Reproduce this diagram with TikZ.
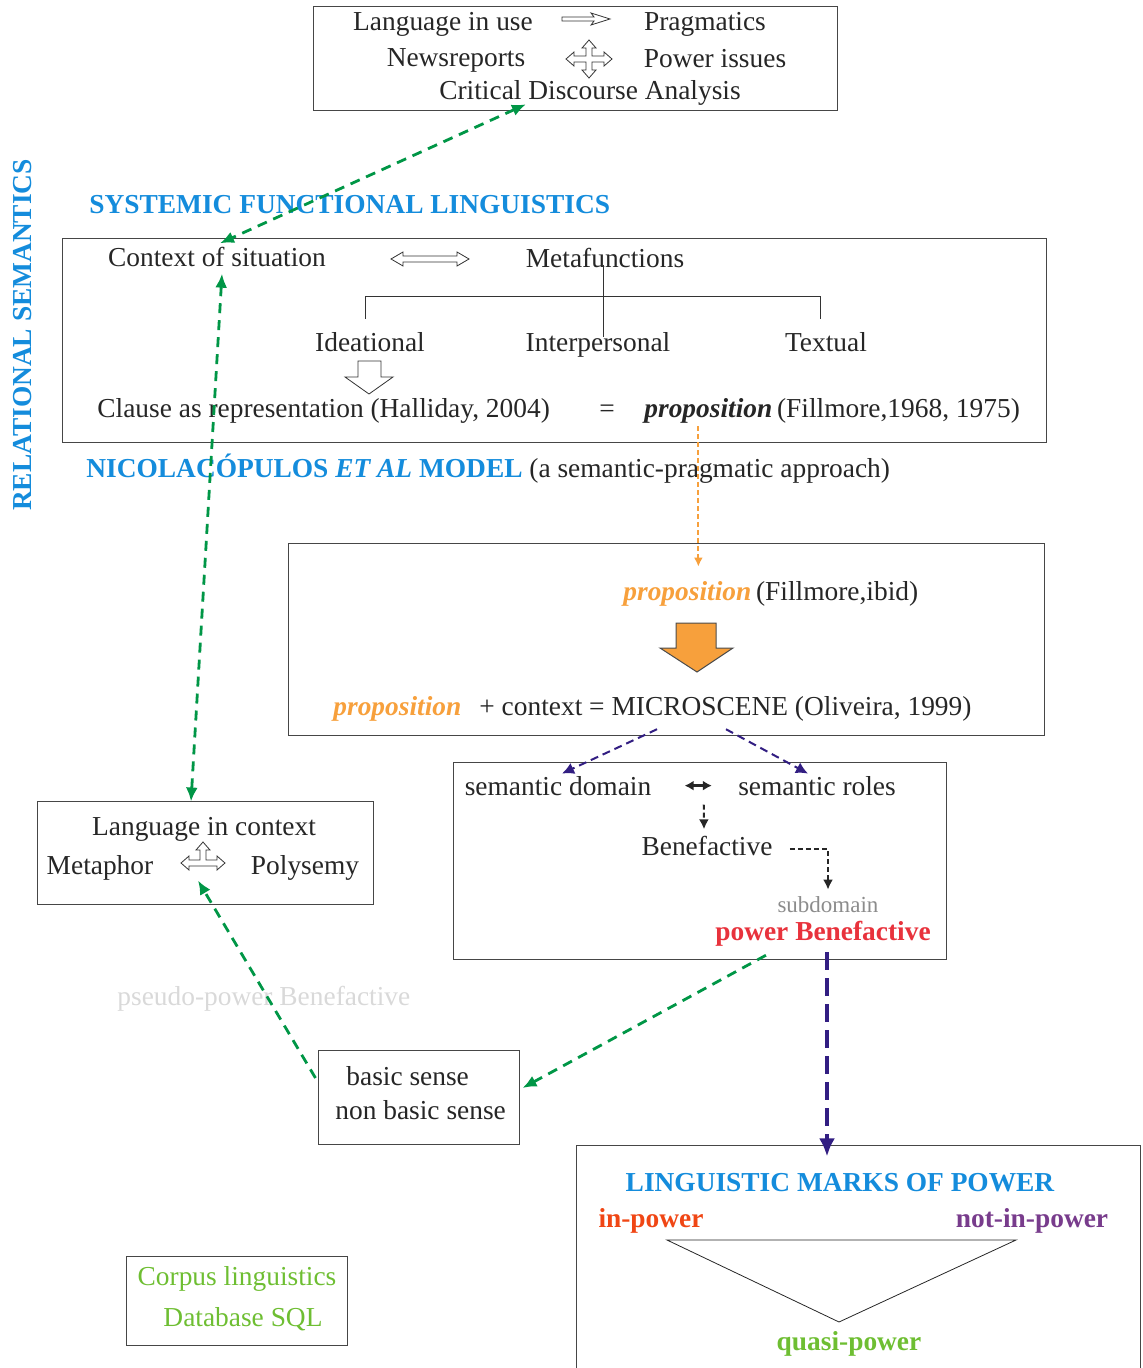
\documentclass[tikz,border=0pt]{standalone}
\usepackage{fontspec}
\setmainfont{Liberation Serif}
\usetikzlibrary{calc, positioning, arrows.meta, fit}

\definecolor{headblue}{RGB}{20,140,220}
\definecolor{linkgreen}{RGB}{0,150,70}
\definecolor{proporange}{RGB}{247,160,60}
\definecolor{linkpurple}{RGB}{50,30,130}
\definecolor{powred}{RGB}{232,50,60}
\definecolor{inred}{RGB}{240,70,20}
\definecolor{notpurple}{RGB}{120,60,140}
\definecolor{quasigreen}{RGB}{110,190,50}
\definecolor{boxgray}{RGB}{70,70,70}

\begin{document}
\begin{tikzpicture}[x=0.5pt, y=-0.5pt, >=Latex,
  every node/.style={font=\fontsize{13.7}{16}\selectfont, inner sep=1pt, text=black!85},
  box/.style={draw=boxgray, line width=0.5pt, inner sep=0pt},
  hollow/.style={draw=black!80, line width=0.4pt, fill=white},
  greenlink/.style={draw=linkgreen, line width=1.4pt, dash pattern=on 5pt off 3.5pt,
    arrows={-Latex[length=7pt,width=6pt]}},
  purplelink/.style={draw=linkpurple, line width=1pt, dash pattern=on 4pt off 2.5pt,
    arrows={-Latex[length=6pt,width=6pt]}},
  blacklink/.style={draw=black!85, line width=1pt, dash pattern=on 2.5pt off 1.5pt,
    arrows={-Latex[length=5pt,width=5pt]}},
  head/.style={text=headblue, font=\fontsize{13.7}{16}\selectfont\bfseries},
  txt/.style={anchor=base}]

  \useasboundingbox (0,0) rectangle (1143,1368);

  % boxes
  \node[box, fit={(313,7) (837,111)}] (cdabox) {};
  \node[box, fit={(62,239) (1046,443)}] (sflbox) {};
  \node[box, fit={(288,543) (1044,735)}] (propbox) {};
  \node[box, fit={(453,762) (946,959)}] (sembox) {};
  \node[box, fit={(37,801) (373,904)}] (licbox) {};
  \node[box, fit={(318,1050) (519,1144)}] (bsbox) {};
  \node[box, fit={(126,1256) (347,1345)}] (corpbox) {};
  \draw[draw=boxgray, line width=0.5pt] (576,1368) -- (576,1145) -- (1140,1145) -- (1140,1368);

  % top box
  \node[txt] (liu) at (443,31) {Language in use};
  \node[txt] (prag) at (705,31) {Pragmatics};
  \node[txt] (news) at (456,67) {Newsreports};
  \node[txt] (pow) at (715,68) {Power issues};
  \node[txt] (cda) at (590,100) {Critical Discourse Analysis};
  \draw[hollow] (586,19) ++(-24,-2) -- ++(32,0) -- ++(-3,-4) -- ++(19,6) -- ++(-19,6)
    -- ++(3,-4) -- ++(-32,0) -- cycle;
  \draw[hollow, shift={(589,59)}] (3,-3) -- (15,-3) -- (15,-7) -- (23,0) -- (15,7) -- (15,3)
    -- (3,3) -- (3,11) -- (7,11) -- (0,19) -- (-7,11) -- (-3,11) -- (-3,3) -- (-15,3)
    -- (-15,7) -- (-23,0) -- (-15,-7) -- (-15,-3) -- (-3,-3) -- (-3,-11) -- (-7,-11)
    -- (0,-19) -- (7,-11) -- (3,-11) -- cycle;

  % side title
  \node[head, rotate=90, anchor=base] (relsem) at (31,335) {RELATIONAL SEMANTICS};

  % systemic functional linguistics
  \node[head, anchor=base west] (sfl) at (87,214) {SYSTEMIC FUNCTIONAL LINGUISTICS};
  \node[txt] (ctx) at (217,267) {Context of situation};
  \node[txt] (meta) at (605,268) {Metafunctions};
  \node[txt] (ideat) at (370,352) {Ideational};
  \node[txt] (inter) at (598,352) {Interpersonal};
  \node[txt] (textual) at (826,352) {Textual};
  \draw[hollow, shift={(430,259)}] (-27,-3) -- (27,-3) -- (27,-7) -- (39,0) -- (27,7) -- (27,3)
    -- (-27,3) -- (-27,7) -- (-39,0) -- (-27,-7) -- cycle;
  \draw[black!80, line width=0.4pt] (603,265) -- (603,337);
  \draw[black!80, line width=0.4pt] (365,319) -- (365,296) -- (820,296) -- (820,319);
  \draw[hollow] (358,361) -- (381,361) -- (381,377) -- (393,377) -- (369,394) -- (345,377)
    -- (358,377) -- cycle;
  \node[anchor=base west] (clause) at (95,418) {Clause as representation (Halliday, 2004)};
  \node[txt] (eq) at (607,418) {=};
  \node[anchor=base west] (propa) at (642,418) {\textbf{\textit{proposition}}};
  \node[anchor=base west] (filla) at (propa.base east) {(Fillmore,1968, 1975)};

  % model
  \node[anchor=base west] (nic) at (84,478) {\textcolor{headblue}{\bfseries NICOLACÓPULOS \textit{ET AL} MODEL} (a semantic-pragmatic approach)};

  \node[anchor=base west, text=proporange] (propb) at (621,600) {\textbf{\textit{proposition}}};
  \node[anchor=base west] (fillb) at (propb.base east) {(Fillmore,ibid)};
  \draw[draw=black!70, line width=0.5pt, fill=proporange] (676,623) -- (716,623) -- (716,648)
    -- (733,648) -- (697,672) -- (660,648) -- (676,648) -- cycle;
  \node[anchor=base west, text=proporange] (propc) at (331,715) {\textbf{\textit{proposition}}};
  \node[anchor=base west] (mscene) at (477,715) {+ context = MICROSCENE (Oliveira, 1999)};

  % semantic box
  \node[txt] (sdom) at (558,795) {semantic domain};
  \node[txt] (sroles) at (817,795) {semantic roles};
  \node[txt] (benef) at (707,855) {Benefactive};
  \node[txt, text=black!45, font=\fontsize{11.5}{14}\selectfont] (subd) at (828,912) {subdomain};
  \node[txt, text=powred, font=\fontsize{13.7}{16}\selectfont\bfseries] (pbenef) at (823,940) {power Benefactive};

  % language in context
  \node[txt] (lic) at (204,835) {Language in context};
  \node[txt] (metaph) at (100,874) {Metaphor};
  \node[txt] (polys) at (305,874) {Polysemy};
  \draw[hollow, shift={(203,863)}] (3,-3) -- (3,-13) -- (7,-13) -- (0,-21) -- (-7,-13) -- (-3,-13)
    -- (-3,-3) -- (-14,-3) -- (-14,-7) -- (-22,0) -- (-14,7) -- (-14,3) -- (14,3) -- (14,7)
    -- (22,0) -- (14,-7) -- (14,-3) -- cycle;

  \node[anchor=base west, text=black!15] (pseudo) at (115,1005) {pseudo-power Benefactive};
  \node[anchor=base west] (bsense) at (344,1085) {basic sense};
  \node[anchor=base west] (nbsense) at (333,1119) {non basic sense};

  % marks of power
  \node[head, txt] (lmp) at (840,1191) {LINGUISTIC MARKS OF POWER};
  \node[txt, text=inred, font=\fontsize{13.7}{16}\selectfont\bfseries] (inpow) at (651,1227) {in-power};
  \node[txt, text=notpurple, font=\fontsize{13.7}{16}\selectfont\bfseries] (notpow) at (1032,1227) {not-in-power};
  \node[txt, text=quasigreen, font=\fontsize{13.7}{16}\selectfont\bfseries] (quasi) at (849,1350) {quasi-power};
  \draw[black!85, line width=0.4pt] (667,1240) -- (1016,1240) -- (839,1322) -- cycle;

  \node[txt, text=quasigreen] (corpus) at (237,1285) {Corpus linguistics};
  \node[txt, text=quasigreen] (dbsql) at (243,1326) {Database SQL};

  % connectors
  \draw[greenlink, arrows={Latex[length=7pt,width=6pt]-Latex[length=7pt,width=6pt]}]
    ($(cda.south west)+(89,-4)$) -- ($(ctx.north)+(3,-2)$);
  \draw[greenlink, arrows={Latex[length=7pt,width=6pt]-Latex[length=7pt,width=6pt]}]
    ($(ctx.south)+(5,4)$) -- ($(licbox.north)+(-14,1)$);
  \draw[greenlink] ($(bsbox.west)+(-2,-19)$) -- ($(licbox.south)+(-7,-24)$);
  \draw[greenlink] ($(pbenef.south west)+(53,7)$) -- ($(bsbox.east)+(3,-9)$);

  \draw[draw=proporange, line width=1pt, dash pattern=on 2.5pt off 1.5pt,
    arrows={-Latex[length=4.5pt,width=4.5pt]}]
    ($(propa.south)+(-10,0)$) -- ($(propb.north)+(11,-12)$);

  \draw[purplelink] ($(mscene.south west)+(180,6)$) -- ($(sdom.north)+(4,0)$);
  \draw[purplelink] ($(mscene.south west)+(249,6)$) -- ($(sroles.north)+(-9,0)$);
  \draw[purplelink, line width=2pt, dash pattern=on 9pt off 4pt,
    arrows={-Latex[length=9pt,width=8pt]}]
    ($(pbenef.south)+(4,4)$) -- ($(lmp.north)+(-13,-14)$);

  \draw[black!85, line width=1.2pt, arrows={Latex[length=4.5pt,width=5pt]-Latex[length=4.5pt,width=5pt]}]
    ($(sdom.east)+(31,0)$) -- ($(sroles.west)+(-24,0)$);
  \draw[blacklink] ($($(sdom.east)!0.5!(sroles.west)$)+(9,19)$) -- ($(benef.north)+(-3,-4)$);
  \draw[blacklink] ($(benef.east)+(15,4)$) -| ($(subd.north)+(0,-4)$);
\end{tikzpicture}
\end{document}
